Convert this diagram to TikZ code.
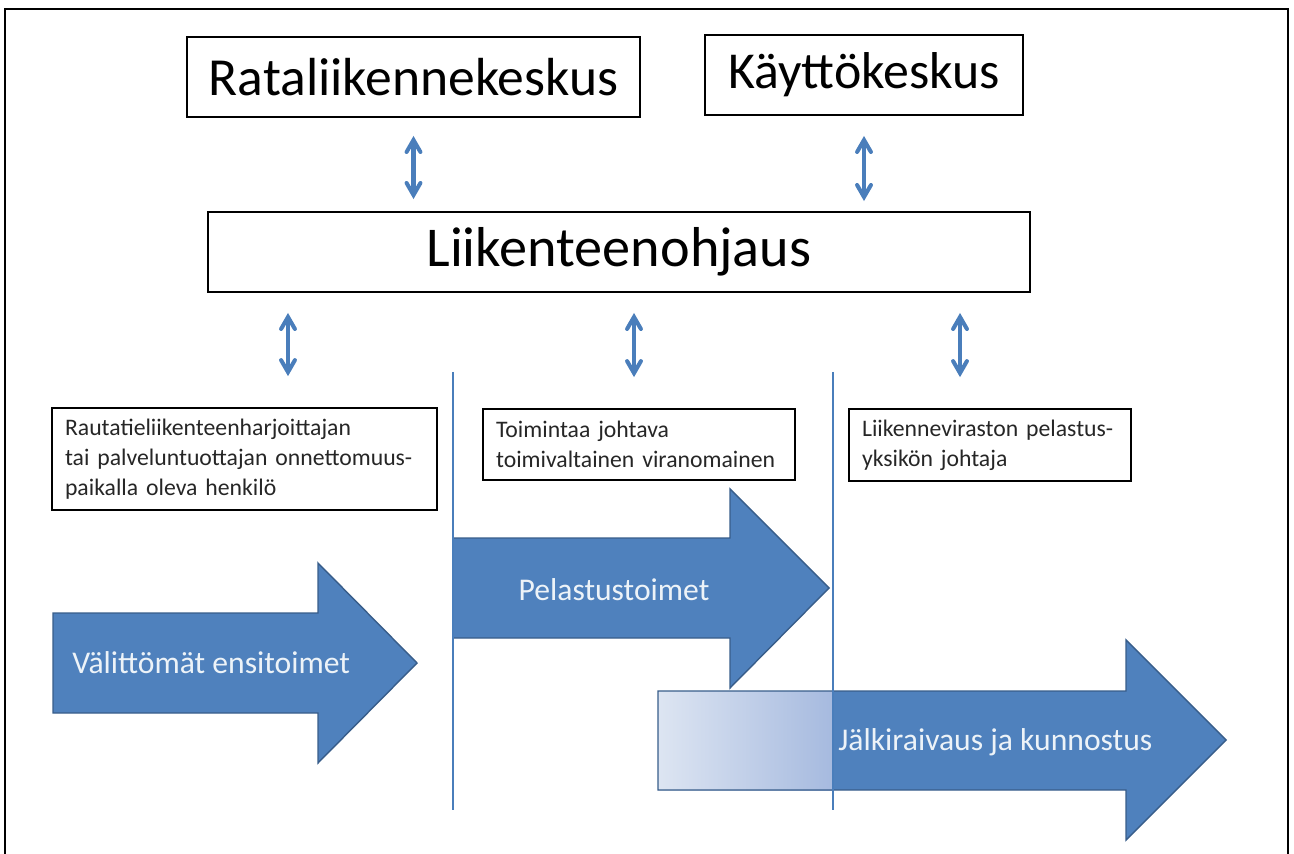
\documentclass[tikz,border=0pt]{standalone}
\usepackage{fontspec}
\setmainfont{Carlito}
\usepackage{tikz}
\usetikzlibrary{arrows}
\usetikzlibrary{calc}
\usetikzlibrary{positioning}

\definecolor{officeblue}{HTML}{4F81BD}
\definecolor{officeedge}{HTML}{385D8A}
\definecolor{arrowblue}{HTML}{4A7EBB}
\definecolor{fadelight}{HTML}{DDE5F2}
\definecolor{fadedark}{HTML}{A6BADF}

\begin{document}
\begin{tikzpicture}[x=0.02cm,y=-0.02cm,
    titlebox/.style={draw,rectangle,line width=1.1pt,minimum height=1.6cm,inner sep=0pt},
    rolebox/.style={draw,rectangle,line width=1pt,inner xsep=0.26cm,inner ysep=0pt,align=left,text=black!85,font=\fontsize{13.5}{17}\selectfont},
    phase/.style={fill=officeblue,draw=officeedge,line width=0.8pt,line join=miter},
    phaselabel/.style={inner sep=0pt,text=white!90!officeblue,font=\fontsize{18}{21}\selectfont},
    link/.style={draw=arrowblue,line width=2.3pt,<->,>=angle 60},
    divider/.style={draw=arrowblue,line width=1.1pt}]

  \useasboundingbox (0,0) rectangle (1294,854);
  \clip (0,0) rectangle (1294,854);
  \draw [line width=1.1pt] (5,870) -- (5,9) -- (1288,9) -- (1288,870);

  \node [titlebox,minimum width=9.06cm,font=\fontsize{30.5}{36}\selectfont] (rata) at (413.5,77) {Rataliikennekeskus};
  \node [titlebox,minimum width=6.36cm,font=\fontsize{29.5}{36}\selectfont] (kayt) at (864,75) {Käyttökeskus};
  \node [titlebox,minimum width=16.44cm,font=\fontsize{32}{38}\selectfont] (ohjaus) at (619,252) {Liikenteenohjaus};

  \node [rolebox,text width=7.18cm,minimum height=2.04cm] (harjoittaja) at (244.5,459)
    {Rautatieliikenteenharjoittajan\\tai palveluntuottajan onnettomuus-\\paikalla oleva henkilö};
  \node [rolebox,text width=5.72cm,minimum height=1.42cm] (viranomainen) at (639,444.5)
    {Toimintaa johtava\\toimivaltainen viranomainen};
  \node [rolebox,text width=5.12cm,minimum height=1.44cm] (yksikko) at (990,445)
    {Liikenneviraston pelastus-\\yksikön johtaja};

  \coordinate (harj_link) at ([xshift=0.87cm]harjoittaja.north);
  \coordinate (vira_link) at ([xshift=-0.1cm]viranomainen.north);
  \coordinate (yks_link) at ([xshift=-0.6cm]yksikko.north);

  \draw [link,shorten <=0.36cm,shorten >=0.24cm] (rata.south) -- (rata.south |- ohjaus.north);
  \draw [link,shorten <=0.4cm,shorten >=0.2cm] (kayt.south) -- (kayt.south |- ohjaus.north);
  \draw [link,shorten <=0.4cm,shorten >=0.62cm] (harj_link |- ohjaus.south) -- (harj_link);
  \draw [link,shorten <=0.4cm,shorten >=0.62cm] (vira_link |- ohjaus.south) -- (vira_link);
  \draw [link,shorten <=0.4cm,shorten >=0.62cm] (yks_link |- ohjaus.south) -- (yks_link);

  \filldraw [phase] (53,613) -- (318,613) -- (318,563) -- (417,663) -- (318,763) -- (318,713) -- (53,713) -- cycle;
  \node [phaselabel,anchor=west] (ensitoimet) at (72,663) {Välittömät ensitoimet};

  \filldraw [phase] (453,538) -- (730,538) -- (730,489) -- (829,588) -- (730,688) -- (730,638) -- (453,638) -- cycle;
  \node [phaselabel] (pelastus) at (614,590) {Pelastustoimet};

  \fill [officeblue] (658,691) -- (1126,691) -- (1126,640) -- (1226,740) -- (1126,840) -- (1126,790) -- (658,790) -- cycle;
  \shade [left color=fadelight,right color=fadedark] (658,691) rectangle (833,790);
  \draw [phase,fill=none] (658,691) -- (1126,691) -- (1126,640) -- (1226,740) -- (1126,840) -- (1126,790) -- (658,790) -- cycle;
  \node [phaselabel,anchor=west] (jalkiraivaus) at (838,742) {Jälkiraivaus ja kunnostus};

  \draw [divider] (453,372) -- (453,810);
  \draw [divider] (833,372) -- (833,810);

\end{tikzpicture}
\end{document}
